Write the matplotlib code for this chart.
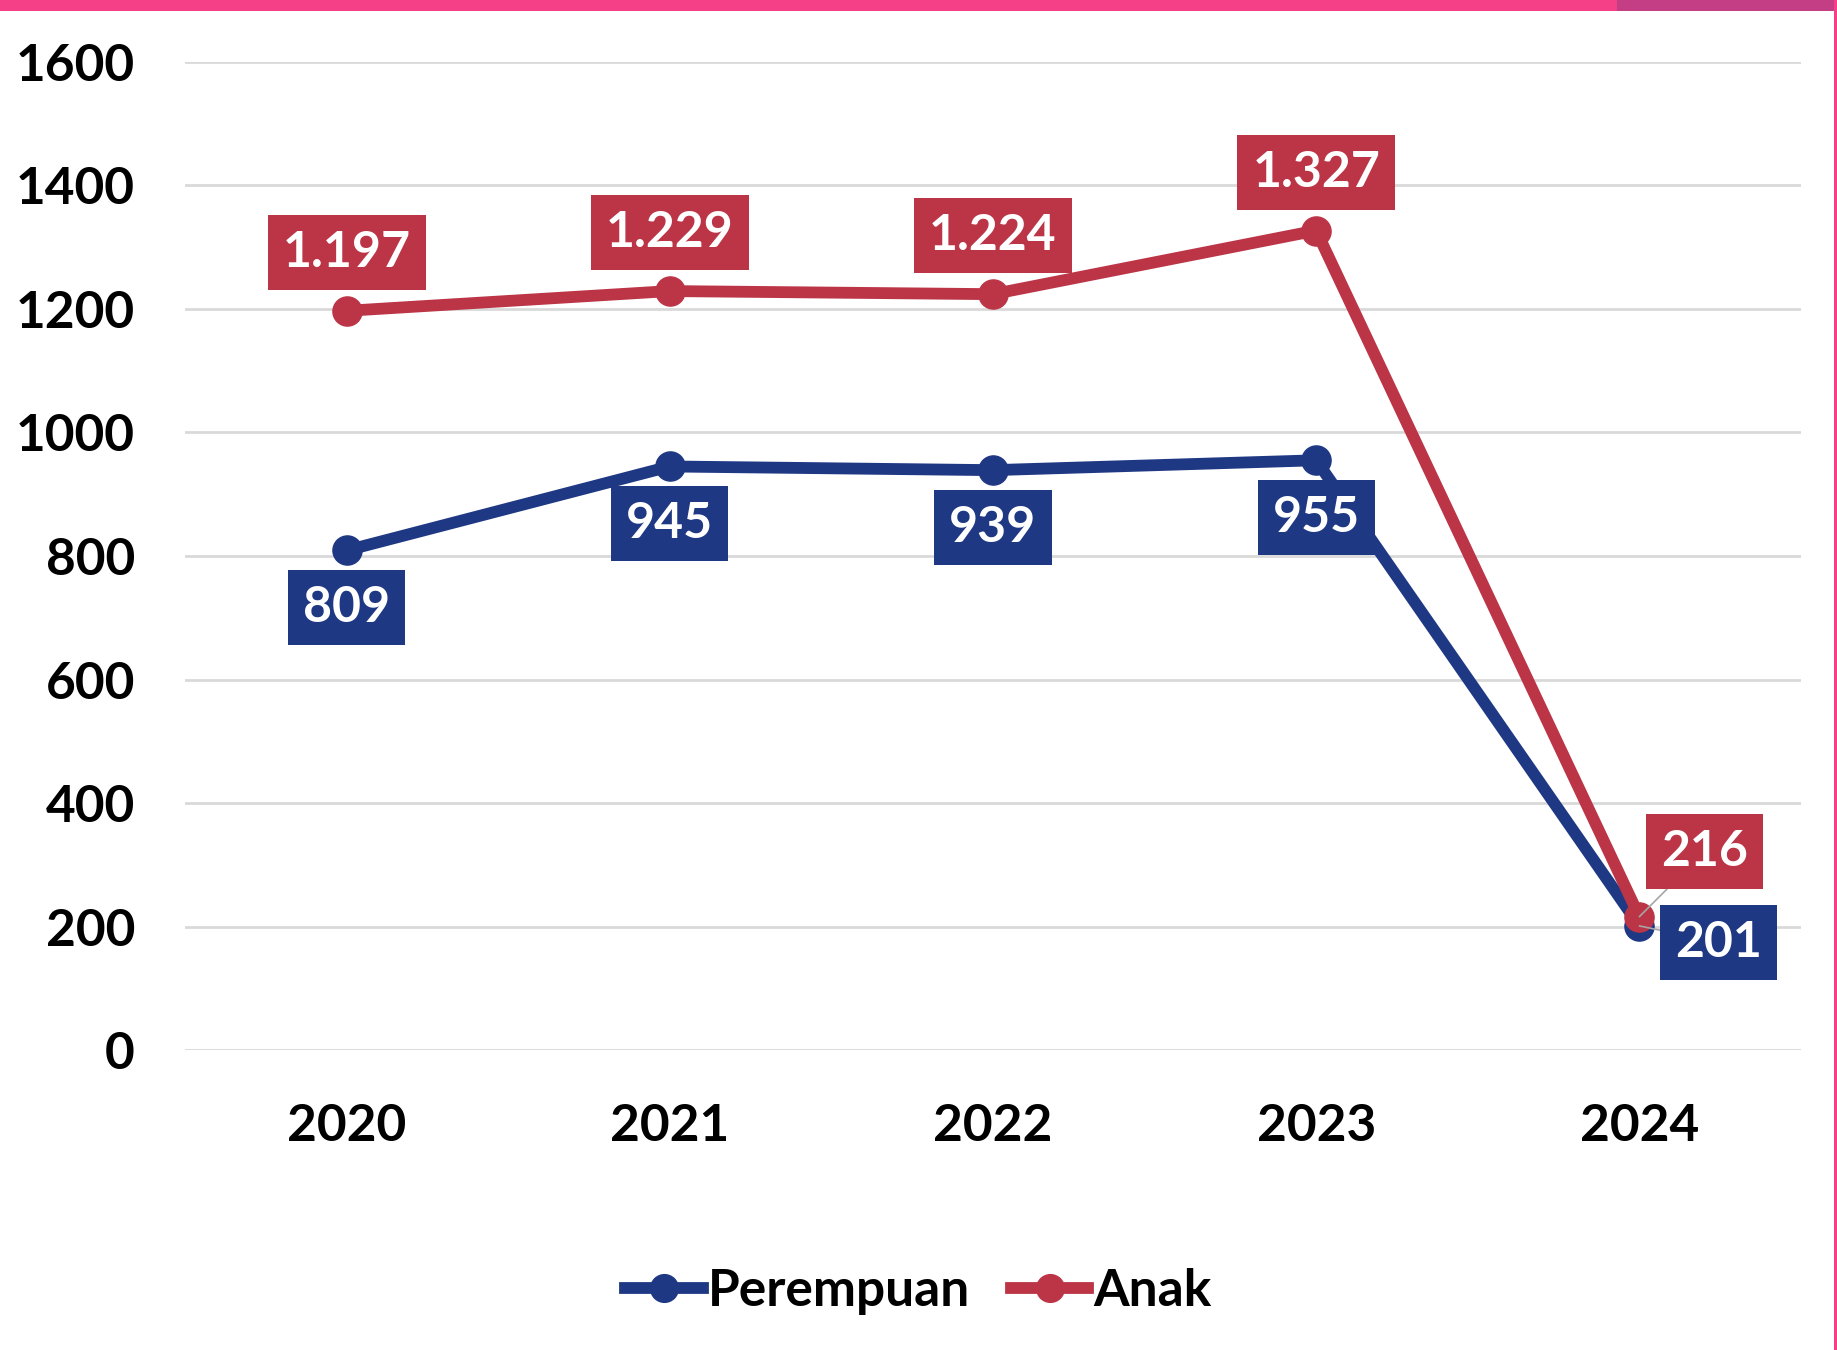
import matplotlib.pyplot as plt
from matplotlib.patches import Rectangle

years = ["2020", "2021", "2022", "2023", "2024"]
perempuan = [809, 945, 939, 955, 201]
anak = [1197, 1229, 1224, 1327, 216]
anak_labels = ["1.197", "1.229", "1.224", "1.327", "216"]
perempuan_labels = ["809", "945", "939", "955", "201"]
yticks = [0, 200, 400, 600, 800, 1000, 1200, 1400, 1600]

blue = "#1F3884"
red = "#BC3547"

plt.rcParams['font.family'] = ['Lato', 'DejaVu Sans']
plt.rcParams['font.weight'] = 'bold'

fig = plt.figure(figsize=(18.37, 13.5), dpi=100)
ax = fig.add_axes([0.1007, 0.2222, 0.8797, 0.7319])

x = list(range(len(years)))
ax.plot(x, perempuan, color=blue, lw=8.5, marker='o', ms=21, label="Perempuan", zorder=3)
ax.plot(x, anak, color=red, lw=8.5, marker='o', ms=21, label="Anak", zorder=4)

ax.set_xlim(-0.5, 4.5)
ax.set_ylim(0, 1600)
ax.set_yticks(yticks)
ax.set_xticks(x)
ax.set_xticklabels(years)
ax.tick_params(axis='y', length=0, pad=36, labelsize=37)
ax.tick_params(axis='x', length=0, pad=38, labelsize=37)
ax.yaxis.grid(True, color="#D9D9D9", lw=2)
ax.set_axisbelow(True)
for s in ax.spines.values():
    s.set_visible(False)

def box(c):
    return dict(boxstyle="square,pad=0.3", fc=c, ec="none")

for i in range(4):
    ax.annotate(anak_labels[i], (i, anak[i]), xytext=(0, 42), textcoords="offset points",
                ha="center", va="center", color="white", fontsize=36, fontweight="bold",
                bbox=box(red), zorder=6)
    ax.annotate(perempuan_labels[i], (i, perempuan[i]), xytext=(0, -41), textcoords="offset points",
                ha="center", va="center", color="white", fontsize=36, fontweight="bold",
                bbox=box(blue), zorder=5)

ax.annotate(anak_labels[4], (4, anak[4]), xytext=(47, 47), textcoords="offset points",
            ha="center", va="center", color="white", fontsize=36, fontweight="bold",
            bbox=box(red), zorder=6,
            arrowprops=dict(arrowstyle="-", color="#A6A6A6", lw=1.2, shrinkA=0, shrinkB=0))
ax.annotate(perempuan_labels[4], (4, perempuan[4]), xytext=(57, -12), textcoords="offset points",
            ha="center", va="center", color="white", fontsize=36, fontweight="bold",
            bbox=box(blue), zorder=5,
            arrowprops=dict(arrowstyle="-", color="#A6A6A6", lw=1.2, shrinkA=0, shrinkB=0))

fig.legend(loc="center", bbox_to_anchor=(0.5, 0.043), ncol=2, frameon=False,
           fontsize=37, handlelength=1.5, handletextpad=0.1, columnspacing=0.8,
           markerscale=0.95)

# pink strip on top and thin edge on the right
fig.patches.append(Rectangle((0, 1 - 11 / 1350), 0.88, 11 / 1350, transform=fig.transFigure,
                             fc="#F53F87", ec="none"))
fig.patches.append(Rectangle((0.88, 1 - 11 / 1350), 0.12, 11 / 1350, transform=fig.transFigure,
                             fc="#C43E85", ec="none"))
fig.patches.append(Rectangle((1 - 3 / 1837, 0), 3 / 1837, 1, transform=fig.transFigure,
                             fc="#F53F87", ec="none"))

plt.savefig("out.png", dpi=100)
